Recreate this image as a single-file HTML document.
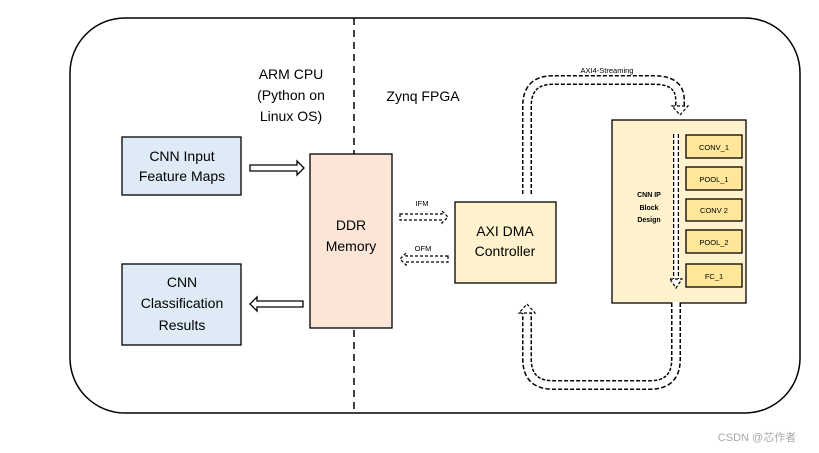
<!DOCTYPE html>
<html><head><style>body{margin:0;background:#fff}svg{display:block}text{font-family:"Liberation Sans","Noto Sans CJK SC",sans-serif}</style></head><body>
<svg width="819" height="453" viewBox="0 0 819 453" xmlns="http://www.w3.org/2000/svg">
<rect x="70" y="18" width="730" height="395" rx="55" fill="#fff" stroke="#000" stroke-width="1.5"/>
<line x1="354" y1="18" x2="354" y2="413" stroke="#000" stroke-width="1.5" stroke-dasharray="7,5"/>
<g font-size="14" text-anchor="middle" fill="#000">
<text x="291" y="79">ARM CPU</text><text x="291" y="100">(Python on</text><text x="291" y="121">Linux OS)</text>
<text x="423" y="101">Zynq FPGA</text>
</g>
<rect x="122" y="137" width="119" height="58" fill="#deebf7" stroke="#000" stroke-width="1.3"/>
<text x="182" y="161" font-size="14" text-anchor="middle">CNN Input</text><text x="182" y="181" font-size="14" text-anchor="middle">Feature Maps</text>
<rect x="122" y="264" width="119" height="81" fill="#deebf7" stroke="#000" stroke-width="1.3"/>
<text x="182" y="287" font-size="14" text-anchor="middle">CNN</text><text x="182" y="308" font-size="14" text-anchor="middle">Classification</text><text x="182" y="330" font-size="14" text-anchor="middle">Results</text>
<rect x="310" y="154" width="82" height="174" fill="#fbe5d6" stroke="#000" stroke-width="1.3"/>
<text x="351" y="230" font-size="14" text-anchor="middle">DDR</text><text x="351" y="251" font-size="14" text-anchor="middle">Memory</text>
<rect x="455" y="202" width="101" height="81" fill="#fff2cc" stroke="#000" stroke-width="1.3"/>
<text x="505" y="236" font-size="14" text-anchor="middle">AXI DMA</text><text x="505" y="256" font-size="14" text-anchor="middle">Controller</text>
<rect x="612" y="120" width="134" height="183" fill="#fff2cc" stroke="#000" stroke-width="1.3"/>
<g font-size="7" font-weight="bold" text-anchor="middle"><text x="649" y="197">CNN IP</text><text x="649" y="210">Block</text><text x="649" y="222">Design</text></g>
<g fill="#ffe699" stroke="#000" stroke-width="1.3">
<rect x="686" y="135" width="56" height="23"/><rect x="686" y="167" width="56" height="23"/><rect x="686" y="199" width="56" height="22"/><rect x="686" y="230" width="56" height="23"/><rect x="686" y="264" width="56" height="23"/></g>
<g font-size="7.5" text-anchor="middle"><text x="714" y="150">CONV_1</text><text x="714" y="182">POOL_1</text><text x="714" y="213">CONV  2</text><text x="714" y="245">POOL_2</text><text x="714" y="279">FC_1</text></g>
<polygon points="250,165 297,165 297,161 304,168 297,175 297,171 250,171" fill="#fff" stroke="#000" stroke-width="1.3"/>
<polygon points="303,301 257,301 257,297 250,304 257,311 257,307 303,307" fill="#fff" stroke="#000" stroke-width="1.3"/>
<g fill="#fff" stroke="#000" stroke-width="1.2" stroke-dasharray="3,2">
<polygon points="400,214 442,214 442,211 448,217 442,223 442,220 400,220"/>
<polygon points="448,256 406,256 406,253 400,259 406,265 406,262 448,262"/>
</g>
<g font-size="7.5" text-anchor="middle"><text x="422" y="206">IFM</text><text x="423" y="251">OFM</text></g>
<g fill="none" stroke-linejoin="round">
<path d="M527,194 L527,106 Q527,80 553,80 L654,80 Q680,80 680,100 L680,108" stroke="#000" stroke-width="10" stroke-dasharray="4,2"/>
<path d="M527,195 L527,106 Q527,80 553,80 L654,80 Q680,80 680,100 L680,109" stroke="#fff" stroke-width="7"/>
<path d="M676,303 L676,359 Q676,385 650,385 L553,385 Q527,385 527,359 L527,312" stroke="#000" stroke-width="10" stroke-dasharray="4,2"/>
<path d="M676,302 L676,359 Q676,385 650,385 L553,385 Q527,385 527,359 L527,311" stroke="#fff" stroke-width="7"/>
<path d="M676,134 L676,280" stroke="#000" stroke-width="6" stroke-dasharray="4,2"/>
<path d="M676,133 L676,281" stroke="#fff" stroke-width="3.5"/>
</g>
<g fill="#fff" stroke="#000" stroke-width="1.2" stroke-dasharray="3,2">
<polygon points="672,106 688,106 680,115"/>
<polygon points="519,313 535,313 527,304"/>
<polygon points="670,279 682,279 676,288"/>
</g>
<text x="607" y="73" font-size="7.5" text-anchor="middle">AXI4-Streaming</text>
<text x="757" y="441" font-size="11" fill="#aaa" text-anchor="middle">CSDN @芯作者</text>
</svg>
</body></html>
